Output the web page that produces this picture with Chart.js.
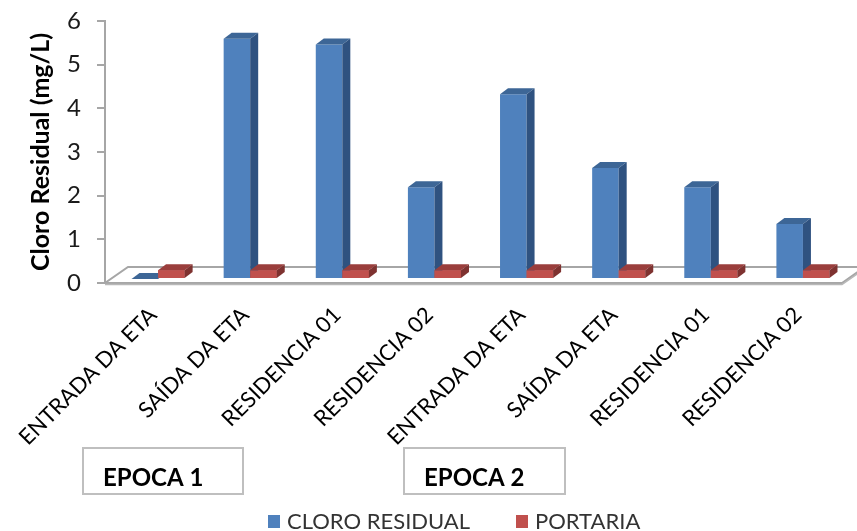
<!DOCTYPE html>
<html>
<head>
<meta charset="utf-8">
<script src="https://cdn.jsdelivr.net/npm/chart.js@4.4.1/dist/chart.umd.min.js"></script>
<style>
  html, body { margin: 0; padding: 0; background: #ffffff; }
  #wrap { width: 857px; height: 531px; }
</style>
</head>
<body>
<div id="wrap"><canvas id="chart" width="857" height="531"></canvas></div>
<script>
// Sampling points (two campaigns of four points each)
const categories = [
  'ENTRADA DA ETA', 'SAÍDA DA ETA', 'RESIDENCIA 01', 'RESIDENCIA 02',
  'ENTRADA DA ETA', 'SAÍDA DA ETA', 'RESIDENCIA 01', 'RESIDENCIA 02'
];
const seriesNames = ['CLORO RESIDUAL', 'PORTARIA'];
// Residual chlorine measured (mg/L)
const cloroResidual = [0, 5.5, 5.37, 2.1, 4.23, 2.54, 2.1, 1.26];
// Reference limit (portaria) in mg/L
const portaria = [0.2, 0.2, 0.2, 0.2, 0.2, 0.2, 0.2, 0.2];
const yTicks = [0, 1, 2, 3, 4, 5, 6];
const epocas = ['EPOCA 1', 'EPOCA 2'];

const FONT = "Lato, 'Open Sans', sans-serif";
const frontColors = ['#4F81BD', '#C0504D'];
const topColors = ['#3D6696', '#9A3E3C'];
const sideColors = ['#2F5280', '#7E3230'];

// Depth of each bar and of the floor, as screen offsets
const BAR_DX = 8, BAR_DY = 6;
const FLOOR_DX = 23, FLOOR_DY = 16;
// Bars stand a little behind the front edge of the floor
const ROW_DX = 7, ROW_DY = 4;

function drawFaces(ctx, el, i) {
  const p = el.getProps(['x', 'y', 'base', 'width'], true);
  const l = p.x - p.width / 2, r = p.x + p.width / 2;
  const t = Math.min(p.y, p.base), b = Math.max(p.y, p.base);
  // top face
  ctx.beginPath();
  ctx.moveTo(l, t);
  ctx.lineTo(r, t);
  ctx.lineTo(r + BAR_DX, t - BAR_DY);
  ctx.lineTo(l + BAR_DX, t - BAR_DY);
  ctx.closePath();
  ctx.fillStyle = topColors[i];
  ctx.fill();
  // side face
  ctx.beginPath();
  ctx.moveTo(r, t);
  ctx.lineTo(r + BAR_DX, t - BAR_DY);
  ctx.lineTo(r + BAR_DX, b - BAR_DY);
  ctx.lineTo(r, b);
  ctx.closePath();
  ctx.fillStyle = sideColors[i];
  ctx.fill();
}

const bars3d = {
  id: 'bars3d',
  beforeDatasetsDraw(chart) {
    const { ctx, chartArea: a } = chart;
    ctx.save();
    // floor
    ctx.beginPath();
    ctx.moveTo(a.left, a.bottom);
    ctx.lineTo(a.right, a.bottom);
    ctx.lineTo(a.right + FLOOR_DX, a.bottom - FLOOR_DY);
    ctx.lineTo(a.left + FLOOR_DX, a.bottom - FLOOR_DY);
    ctx.closePath();
    ctx.fillStyle = '#ffffff';
    ctx.fill();
    ctx.strokeStyle = '#A6A6A6';
    ctx.lineWidth = 2;
    ctx.stroke();
    ctx.beginPath();
    ctx.moveTo(a.left, a.bottom + 1.5);
    ctx.lineTo(a.right, a.bottom + 1.5);
    ctx.lineTo(a.right + FLOOR_DX, a.bottom - FLOOR_DY + 1.5);
    ctx.strokeStyle = '#B8B8B8';
    ctx.lineWidth = 1.5;
    ctx.stroke();
    ctx.restore();
    ctx.save();
    ctx.translate(ROW_DX, -ROW_DY);
  },
  afterDatasetsDraw(chart) {
    const { ctx } = chart;
    // first series: top and side faces behind the second series
    chart.getDatasetMeta(0).data.forEach(el => drawFaces(ctx, el, 0));
    // second series sits in front of the first one's side faces
    chart.getDatasetMeta(1).data.forEach(el => {
      el.draw(ctx);
      drawFaces(ctx, el, 1);
    });
    ctx.restore();
  },
  afterDraw(chart) {
    const { ctx } = chart;
    ctx.save();
    // campaign boxes
    const boxes = [[83, 448, 160, 46], [404, 448, 161, 46]];
    boxes.forEach((bx, k) => {
      ctx.fillStyle = '#ffffff';
      ctx.fillRect(bx[0], bx[1], bx[2], bx[3]);
      ctx.strokeStyle = '#BFBFBF';
      ctx.lineWidth = 2;
      ctx.strokeRect(bx[0], bx[1], bx[2], bx[3]);
      ctx.fillStyle = '#000000';
      ctx.font = 'bold 24px ' + FONT;
      ctx.textAlign = 'left';
      ctx.textBaseline = 'alphabetic';
      ctx.fillText(epocas[k], bx[0] + 20, 486);
    });
    // legend
    ctx.font = '22px ' + FONT;
    ctx.textBaseline = 'middle';
    const items = [[268, 287], [516, 535]];
    items.forEach((it, k) => {
      ctx.fillStyle = frontColors[k];
      ctx.fillRect(it[0], 515, 12, 13);
      ctx.fillStyle = '#333333';
      ctx.fillText(seriesNames[k], it[1], 522);
    });
    ctx.restore();
  }
};

new Chart(document.getElementById('chart'), {
  type: 'bar',
  data: {
    labels: categories,
    datasets: [
      { label: seriesNames[0], data: cloroResidual, backgroundColor: frontColors[0], clip: false },
      { label: seriesNames[1], data: portaria, backgroundColor: frontColors[1], clip: false }
    ]
  },
  options: {
    responsive: false,
    animation: false,
    devicePixelRatio: 1,
    layout: { padding: { left: 0, right: 15, top: 21, bottom: 0 } },
    datasets: { bar: { categoryPercentage: 0.576, barPercentage: 1, borderWidth: 0 } },
    plugins: { legend: { display: false }, tooltip: { enabled: false } },
    scales: {
      x: {
        grid: { display: false, drawTicks: false },
        border: { display: false },
        ticks: {
          maxRotation: 45, minRotation: 45, autoSkip: false,
          padding: 19, labelOffset: 2,
          color: '#000000',
          font: { family: FONT, size: 22 }
        },
        afterFit(s) { s.height = 248; s.paddingLeft = 0; s.paddingRight = 0; }
      },
      y: {
        min: 0, max: 6,
        afterBuildTicks(s) { s.ticks = yTicks.map(v => ({ value: v })); },
        grid: { drawOnChartArea: false, drawTicks: true, tickLength: 8, color: '#A6A6A6', lineWidth: 2 },
        border: { display: true, color: '#A6A6A6', width: 2 },
        ticks: { padding: 16, color: '#1a1a1a', font: { family: FONT, size: 24 } },
        title: {
          display: true, text: 'Cloro Residual (mg/L)',
          color: '#000000',
          font: { family: FONT, size: 25, weight: 'bold' },
          padding: { top: 26, bottom: 0 }
        },
        afterFit(s) { s.width = 105; s.paddingTop = 0; s.paddingBottom = 0; }
      }
    }
  },
  plugins: [bars3d]
});
</script>
</body>
</html>
